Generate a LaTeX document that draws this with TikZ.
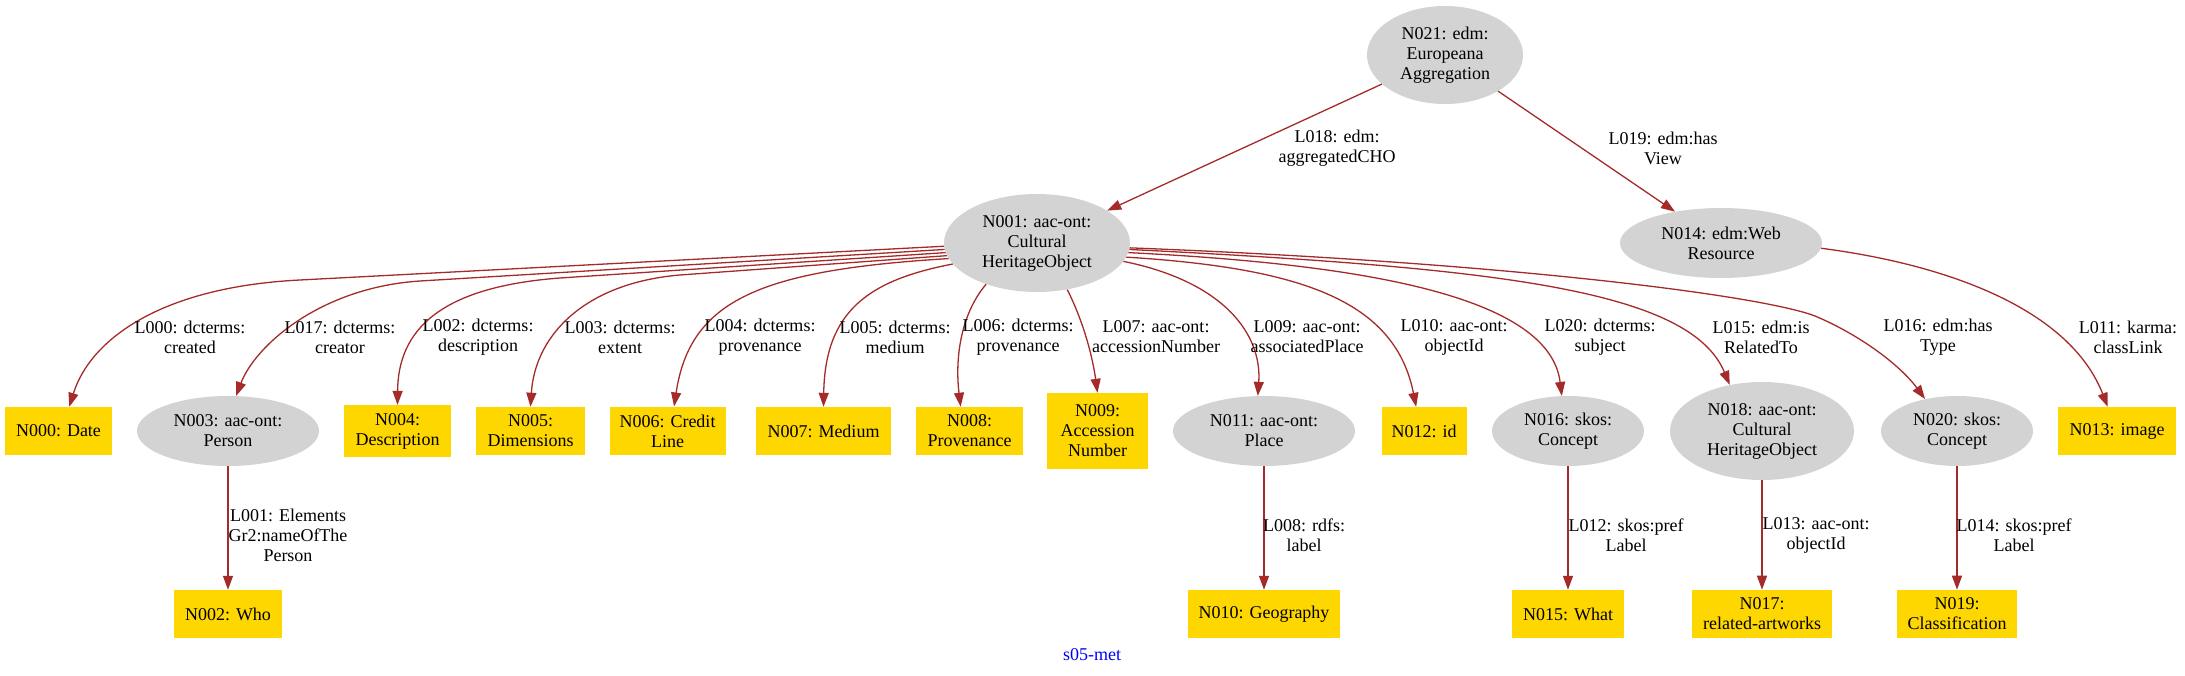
\documentclass[tikz,border=0pt]{standalone}
\usepackage{fontspec}
\setmainfont{Liberation Serif}
\usetikzlibrary{shapes.geometric,arrows.meta,positioning}
\definecolor{edgebrown}{HTML}{A52A2A}
\definecolor{clsgray}{HTML}{D3D3D3}
\definecolor{litgold}{HTML}{FFD700}

\begin{document}
\begin{tikzpicture}[
    x=1pt, y=-1pt,
    font=\fontsize{18}{20}\selectfont,
    cls/.style={
        ellipse, fill=clsgray, draw=none,
        inner sep=0pt, minimum height=70pt,
        align=center
    },
    box/.style={
        rectangle, fill=litgold, draw=none,
        inner xsep=6pt, inner ysep=8pt,
        minimum height=48pt, align=center
    },
    lab/.style={align=center, inner sep=0pt},
    arr/.style={-{Triangle[length=14pt,width=10pt]}, line width=1.3pt, edgebrown},
]
\useasboundingbox (0,0) rectangle (2185,676);

% Nodes
\node[cls, minimum width=156pt, minimum height=98pt] (n021) at (1445,55) {N021: edm:\\Europeana\\Aggregation};
\node[cls, minimum width=186pt, minimum height=98pt] (n001) at (1037,243) {N001: aac-ont:\\Cultural\\HeritageObject};
\node[cls, minimum width=202pt, right of=n001, node distance=684pt] (n014) {N014: edm:Web\\Resource};

% Second rank
\node[box, minimum width=107pt] (n000) at (58.5,431) {N000: Date};
\node[cls, minimum width=182pt, right of=n000, node distance=169.5pt] (n003) {N003: aac-ont:\\Person};
\node[box, minimum width=107pt, right of=n003, node distance=169.5pt] (n004) {N004:\\Description};
\node[box, minimum width=109pt, right of=n004, node distance=133pt] (n005) {N005:\\Dimensions};
\node[box, minimum width=116pt, right of=n005, node distance=137pt] (n006) {N006: Credit\\Line};
\node[box, minimum width=135pt, right of=n006, node distance=156pt] (n007) {N007: Medium};
\node[box, minimum width=107pt, right of=n007, node distance=146pt] (n008) {N008:\\Provenance};
\node[box, minimum width=101pt, minimum height=76pt, right of=n008, node distance=128pt] (n009) {N009:\\Accession\\Number};
\node[cls, minimum width=182pt, right of=n009, node distance=166.5pt] (n011) {N011: aac-ont:\\Place};
\node[box, minimum width=85pt, right of=n011, node distance=160pt] (n012) {N012: id};
\node[cls, minimum width=152pt, right of=n012, node distance=144pt] (n016) {N016: skos:\\Concept};
\node[cls, minimum width=184pt, minimum height=98pt, right of=n016, node distance=194pt] (n018) {N018: aac-ont:\\Cultural\\HeritageObject};
\node[cls, minimum width=152pt, right of=n018, node distance=195pt] (n020) {N020: skos:\\Concept};
\node[box, minimum width=118pt, right of=n020, node distance=160pt] (n013) {N013: image};

% Third rank
\node[box, minimum width=108pt, below of=n003, node distance=183pt] (n002) {N002: Who};
\node[box, minimum width=152pt, below of=n011, node distance=183pt] (n010) {N010: Geography};
\node[box, minimum width=112pt, below of=n016, node distance=183pt] (n015) {N015: What};
\node[box, minimum width=140pt, below of=n018, node distance=183pt] (n017) {N017:\\related-artworks};
\node[box, minimum width=120pt, below of=n020, node distance=183pt] (n019) {N019:\\Classification};

% Arrows
\draw[arr] (n021) -- (n001);
\draw[arr] (n021) -- (n014);
\draw[arr] (n001.182.5) -- (300,280) .. controls (160,287) and (90,340) .. (n000.66);
\draw[arr] (n001.184) -- (420,281) .. controls (320,287.5) and (255,346) .. (n003.77);
\draw[arr] (n001.186) -- (560,278) .. controls (440,287) and (398,330) .. (n004.north);
\draw[arr] (n001.188) -- (680,275) .. controls (585,283) and (535,335) .. (n005.north);
\draw[arr] (n001.190) .. controls (760,270) and (690,300) .. (n006.75);
\draw[arr] (n001.194) .. controls (870,280) and (825,310) .. (n007.north);
\draw[arr] (n001.219) .. controls (960,315) and (955,360) .. (n008.110);
\draw[arr] (n001.303) .. controls (1085,325) and (1093,360) .. (n009.north);
\draw[arr] (n001.348) .. controls (1225,282) and (1262,335) .. (n011.100);
\draw[arr] (n001.351) .. controls (1300,268) and (1395,300) .. (n012.108);
\draw[arr] (n001.354) .. controls (1380,265) and (1550,300) .. (n016.100);
\draw[arr] (n001.356) .. controls (1500,268) and (1690,290) .. (n018.125);
\draw[arr] (n001.357.5) .. controls (1500,262) and (1760,295) .. (1815,316)
    .. controls (1860,335) and (1900,365) .. (n020.135);
\draw[arr] (n014.357) .. controls (1950,265) and (2070,310) .. (n013.111);
\draw[arr] (n003) -- (n002);
\draw[arr] (n011) -- (n010);
\draw[arr] (n016) -- (n015);
\draw[arr] (n018) -- (n017);
\draw[arr] (n020) -- (n019);

% Edge labels
\node[lab] (l018) at (1337,148) {L018: edm:\\aggregatedCHO};
\node[lab] (l019) at (1663,148) {L019: edm:has\\View};
\node[lab] (l000) at (190,337) {L000: dcterms:\\created};
\node[lab] (l017) at (340,337) {L017: dcterms:\\creator};
\node[lab] (l002) at (478,337) {L002: dcterms:\\description};
\node[lab] (l003) at (620,337) {L003: dcterms:\\extent};
\node[lab] (l004) at (760,337) {L004: dcterms:\\provenance};
\node[lab] (l005) at (895,337) {L005: dcterms:\\medium};
\node[lab] (l006) at (1018,337) {L006: dcterms:\\provenance};
\node[lab] (l007) at (1156,337) {L007: aac-ont:\\accessionNumber};
\node[lab] (l009) at (1307,337) {L009: aac-ont:\\associatedPlace};
\node[lab] (l010) at (1454,337) {L010: aac-ont:\\objectId};
\node[lab] (l020) at (1600,337) {L020: dcterms:\\subject};
\node[lab] (l015) at (1761,337) {L015: edm:is\\RelatedTo};
\node[lab] (l016) at (1938,337) {L016: edm:has\\Type};
\node[lab] (l011) at (2128,337) {L011: karma:\\classLink};
\node[lab] (l001) at (288,535) {L001: Elements\\Gr2:nameOfThe\\Person};
\node[lab] (l008) at (1304,535) {L008: rdfs:\\label};
\node[lab] (l012) at (1626,535) {L012: skos:pref\\Label};
\node[lab] (l013) at (1816,535) {L013: aac-ont:\\objectId};
\node[lab] (l014) at (2014,535) {L014: skos:pref\\Label};

% Graph name
\node[lab, text=blue] (title) at (1092,655) {s05-met};

\end{tikzpicture}
\end{document}
